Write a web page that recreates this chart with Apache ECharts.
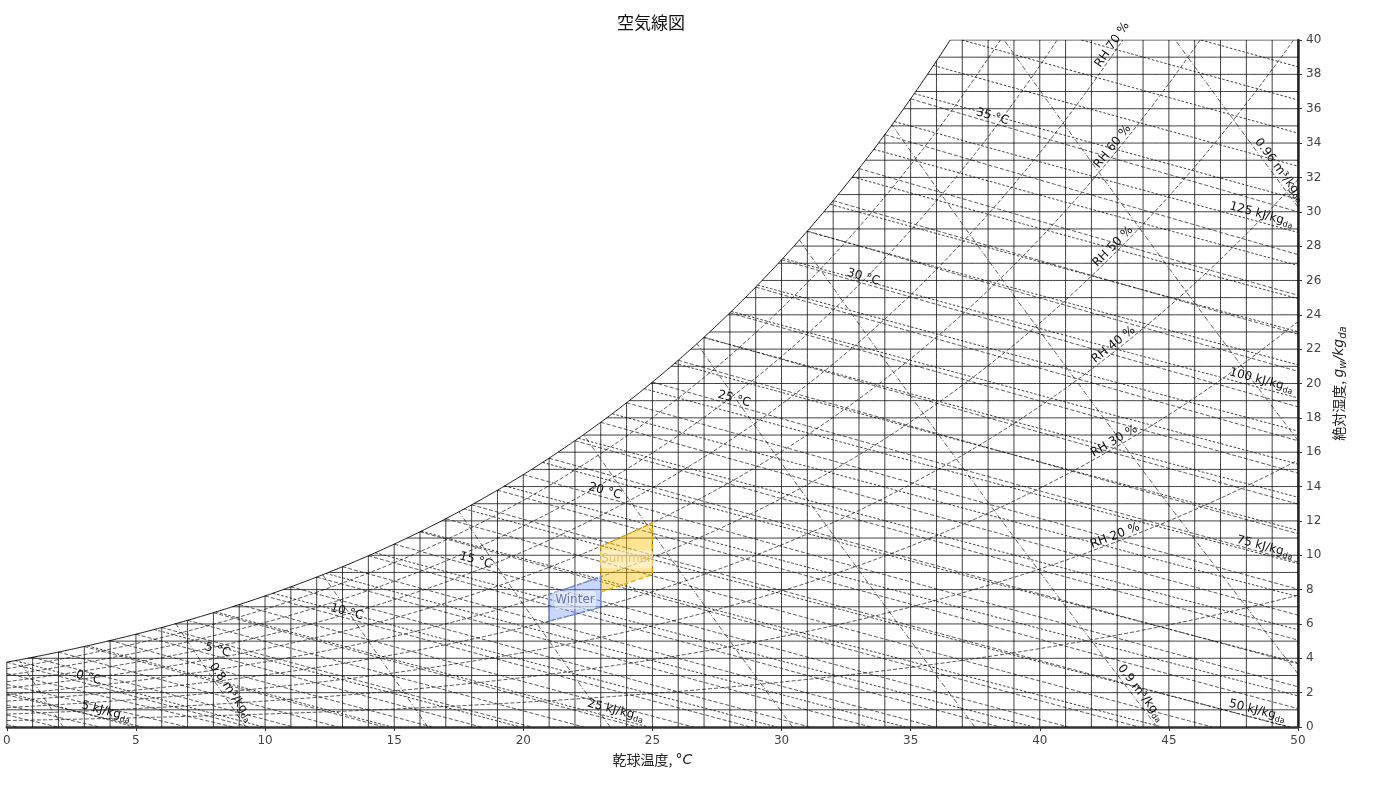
<!DOCTYPE html>
<html><head><meta charset="utf-8">
<script src="https://cdn.jsdelivr.net/npm/echarts@6/dist/echarts.min.js"></script>
<style>html,body{margin:0;padding:0;background:#fff}#c{width:1400px;height:787px}</style>
</head><body><div id="c"></div>
<script>
// ---------------- data ----------------
const chartTitle = '空気線図';
const xAxisName = '乾球温度, ';
const yAxisName = '絶対湿度, ';
const tempRange = [0, 50];
const humidityRange = [0, 40];
const xTickStep = 5;
const yTickStep = 2;
const pressureKPa = 101.325;
const dryTempGrid = [0,1,2,3,4,5,6,7,8,9,10,11,12,13,14,15,16,17,18,19,20,21,22,23,24,25,26,27,28,29,30,31,32,33,34,35,36,37,38,39,40,41,42,43,44,45,46,47,48,49,50];
const humidityGrid = [1,2,3,4,5,6,7,8,9,10,11,12,13,14,15,16,17,18,19,20,21,22,23,24,25,26,27,28,29,30,31,32,33,34,35,36,37,38,39,40];
const rhLevels = [10,20,30,40,50,60,70,80,90];
const rhLabelLevels = [20,30,40,50,60,70];
const rhLabelTemp = 43;
const enthalpyLevels = [5,10,15,20,25,30,35,40,45,50,55,60,65,70,75,80,85,90,95,100,105,110,115,120,125,130,135,140,145,150,155];
const enthalpyLabelLevels = [5,25,50,75,100,125];
const wetBulbLevels = [-10,-9,-8,-7,-6,-5,-4,-3,-2,-1,0,1,2,3,4,5,6,7,8,9,10,11,12,13,14,15,16,17,18,19,20,21,22,23,24,25,26,27,28,29,30,31,32,33,34,35];
const wetBulbLabelLevels = [0,5,10,15,20,25,30,35];
const wetBulbLabelShift = 3.1;
const volumeLevels = [0.78,0.80,0.82,0.84,0.86,0.88,0.90,0.92,0.94,0.96];
const volumeLabelLevels = [0.8,0.9,0.96];
const zoneNames = ['Summer','Winter'];
const zoneTemps = [[23,25],[21,23]];
const zoneRH = [[45,60],[40,50]];

// ---------------- psychrometrics ----------------
const P = pressureKPa;
function pws(T){
  const K = T + 273.15; let ln;
  if (T >= 0) ln = -5.8002206e3/K + 1.3914993 - 4.8640239e-2*K + 4.1764768e-5*K*K - 1.4452093e-8*K*K*K + 6.5459673*Math.log(K);
  else ln = -5.6745359e3/K + 6.3925247 - 9.677843e-3*K + 6.2215701e-7*K*K + 2.0747825e-9*K*K*K - 9.484024e-13*K*K*K*K + 4.1635019*Math.log(K);
  return Math.exp(ln)/1000;
}
function wFromPw(pw){ return 621.945*pw/(P - pw); }
function wSat(T){ return wFromPw(pws(T)); }
function wRH(T, rh){ return wFromPw(rh/100*pws(T)); }
function wEnth(T, h){ return 1000*(h - 1.006*T)/(2501 + 1.86*T); }
function wWet(T, tw){
  const ws = wSat(tw)/1000; let w;
  if (tw >= 0) w = ((2501 - 2.326*tw)*ws - 1.006*(T - tw))/(2501 + 1.86*T - 4.186*tw);
  else w = ((2830 - 0.24*tw)*ws - 1.006*(T - tw))/(2830 + 1.86*T - 2.1*tw);
  return 1000*w;
}
function tVol(W, v){ return v*P/(0.287042*(1 + 1.607858*W/1000)) - 273.15; }

const T0 = tempRange[0], T1 = tempRange[1], W0 = humidityRange[0], W1 = humidityRange[1];
function inside(p){
  const T = p[0], W = p[1];
  if (!(T >= T0 - 1e-9 && T <= T1 + 1e-9 && W >= W0 - 1e-9 && W <= W1 + 1e-9)) return false;
  return W <= wSat(T) + 1e-6;
}
function trace(f, ta, tb, n){
  const segs = []; let cur = null;
  let pt = ta, pp = f(ta), pin = inside(pp);
  if (pin) cur = [pp];
  for (let i = 1; i <= n; i++){
    const t = ta + (tb - ta)*i/n, p = f(t), isIn = inside(p);
    if (isIn !== pin){
      let a = pt, b = t;
      for (let k = 0; k < 40; k++){ const m = (a + b)/2; if (inside(f(m)) === pin) a = m; else b = m; }
      if (pin){ cur.push(f(a)); if (cur.length > 1) segs.push(cur); cur = null; }
      else cur = [f(b)];
    }
    if (isIn) cur.push(p);
    pt = t; pp = p; pin = isIn;
  }
  if (cur && cur.length > 1) segs.push(cur);
  return segs;
}
function flat(list){ return [].concat.apply([], list); }

const satSegs = trace(t => [t, wSat(t)], T0, T1, 600);
const dryGridSegs = flat(dryTempGrid.map(T => trace(t => [T, t], W0, W1, 200)));
const humGridSegs = flat(humidityGrid.map(W => trace(t => [t, W], T0, T1, 400)));
const rhSegs = flat(rhLevels.map(rh => trace(t => [t, wRH(t, rh)], T0, T1, 400)));
const hSegsBy = enthalpyLevels.map(h => trace(t => [t, wEnth(t, h)], -5, 60, 400));
const wbSegsBy = wetBulbLevels.map(tw => trace(t => [t, wWet(t, tw)], tw, 70, 400));
const vSegsBy = volumeLevels.map(v => trace(t => [tVol(t, v), t], W0, W1, 400));

function ls(name, segs, style, z){
  return {type:'lines', name, coordinateSystem:'cartesian2d', polyline:true, silent:true, z, animation:false,
    lineStyle: Object.assign({opacity: 1}, style), data: segs.map(s => ({coords: s}))};
}

// ---------------- labels ----------------
const labelItems = [];
rhLabelLevels.forEach(rh => {
  labelItems.push({T: rhLabelTemp, W: wRH(rhLabelTemp, rh), T2: rhLabelTemp + 0.3, W2: wRH(rhLabelTemp + 0.3, rh),
    text: 'RH ' + rh + ' %', align:'center', inset: 0});
});
wetBulbLabelLevels.forEach(tw => {
  const T = tw + wetBulbLabelShift;
  labelItems.push({T, W: wWet(T, tw), T2: T + 0.3, W2: wWet(T + 0.3, tw), text: tw + ' °C', align:'center', inset: 0});
});
function endLabel(segs, text, inset){
  let best = null;
  segs.forEach(s => { [[s[0], s[1]], [s[s.length-1], s[s.length-2]]].forEach(pr => { if (!best || pr[0][0] > best[0][0]) best = pr; }); });
  if (!best) return;
  labelItems.push({T: best[0][0], W: best[0][1], T2: best[1][0], W2: best[1][1], text, align:'right', inset});
}
enthalpyLabelLevels.forEach(h => endLabel(hSegsBy[enthalpyLevels.indexOf(h)], '{a|' + h + ' kJ/kg}{s|da}', 7));
volumeLabelLevels.forEach(v => endLabel(vSegsBy[volumeLevels.findIndex(x => Math.abs(x - v) < 1e-9)], '{a|' + v + ' m³/kg}{s|da}', 3));

const labelRich = {
  a: {fontSize: 12, fontFamily: 'DejaVu Sans', fill: '#111', lineHeight: 15},
  s: {fontSize: 8, fontFamily: 'DejaVu Sans', fill: '#111', lineHeight: 9, verticalAlign: 'bottom'}
};

const zoneStyles = [
  {fill:'rgba(255,191,0,0.42)', stroke:'rgba(235,170,0,0.9)', text:'rgba(225,175,60,0.7)'},
  {fill:'rgba(127,159,255,0.42)', stroke:'rgba(110,140,220,0.9)', text:'rgba(80,100,160,0.85)'}
];

const chart = echarts.init(document.getElementById('c'), null, {renderer:'canvas'});
const gridLine = {color:'#000', width:0.8, opacity:0.95};
chart.setOption({
  animation: false,
  backgroundColor: '#fff',
  title: {text: chartTitle, left: 651, top: 14, textAlign: 'center', padding: 0,
    textStyle: {fontSize: 17, fontWeight: 'normal', color: '#111', fontFamily: 'Noto Sans CJK JP'}},
  grid: {left: 3, right: 102, top: 40, bottom: 60, containLabel: false},
  xAxis: {type:'value', min: T0, max: T1, interval: xTickStep,
    name: '{a|' + xAxisName + '}{i|°C}', nameLocation: 'middle', nameGap: 26,
    nameTextStyle: {rich: {a: {fontSize: 14, fontFamily: 'Noto Sans CJK JP', color: '#222'}, i: {fontSize: 14, fontStyle: 'italic', fontFamily: 'DejaVu Sans', color: '#222'}}},
    axisLine: {show: true, onZero: false, lineStyle: {color: '#333', width: 2.5}},
    axisTick: {show: true, length: 4, lineStyle: {color: '#333', width: 1}},
    axisLabel: {color: '#444', fontSize: 12, fontFamily: 'DejaVu Sans', margin: 8},
    splitLine: {show: false}},
  yAxis: {type:'value', position:'right', min: W0, max: W1, interval: yTickStep,
    name: '{a|' + yAxisName + '}{i|g}{s|w}{i|/kg}{s|da}', nameLocation: 'middle', nameGap: 24, nameRotate: 90,
    nameTextStyle: {rich: {a: {fontSize: 14, fontFamily: 'Noto Sans CJK JP', color: '#222', lineHeight: 18},
      i: {fontSize: 14, fontStyle: 'italic', fontFamily: 'DejaVu Sans', color: '#222', lineHeight: 18},
      s: {fontSize: 10, fontStyle: 'italic', fontFamily: 'DejaVu Sans', color: '#222', lineHeight: 11, verticalAlign: 'bottom'}}},
    axisLine: {show: true, onZero: false, lineStyle: {color: '#333', width: 2.5}},
    axisTick: {show: true, length: 4, lineStyle: {color: '#333', width: 1}},
    axisLabel: {color: '#444', fontSize: 12, fontFamily: 'DejaVu Sans', margin: 8},
    splitLine: {show: false}},
  series: [
    ls('dry', dryGridSegs, gridLine, 1),
    ls('hum', humGridSegs, gridLine, 1),
    ls('rh', rhSegs, {color:'#111', width:0.7, type:[4,2]}, 2),
    ls('h', flat(hSegsBy), {color:'#111', width:0.8, type:[2.5,1.8]}, 2),
    ls('wb', flat(wbSegsBy), {color:'#111', width:0.7, type:[4,2]}, 2),
    ls('v', flat(vSegsBy), {color:'#111', width:0.7, type:[5,2,1,2]}, 2),
    ls('sat', satSegs, {color:'#000', width:0.9}, 3),
    {type:'custom', name:'zones', coordinateSystem:'cartesian2d', silent:true, z:5, animation:false,
      data: zoneNames.map((n, i) => [zoneTemps[i][0], zoneRH[i][0], i]),
      encode: {x: 0, y: 1},
      renderItem: function(params, api){
        const i = api.value(2), tr = zoneTemps[i], rr = zoneRH[i], st = zoneStyles[i];
        const pts = []; const n = 20;
        for (let k = 0; k <= n; k++){ const T = tr[0] + (tr[1]-tr[0])*k/n; pts.push(api.coord([T, wRH(T, rr[0])])); }
        for (let k = n; k >= 0; k--){ const T = tr[0] + (tr[1]-tr[0])*k/n; pts.push(api.coord([T, wRH(T, rr[1])])); }
        const tm = (tr[0]+tr[1])/2, c = api.coord([tm, (wRH(tm, rr[0]) + wRH(tm, rr[1]))/2]);
        return {type:'group', children:[
          {type:'polygon', shape:{points: pts}, style:{fill: st.fill, stroke: st.stroke, lineWidth: 1.5, lineDash:[5,3]}},
          {type:'text', x: c[0], y: c[1], style:{text: zoneNames[i], fill: st.text, fontSize: 12, fontFamily: 'DejaVu Sans',
            align:'center', verticalAlign:'middle', backgroundColor:'rgba(255,255,255,0.45)', borderRadius: 3, padding:[3,1]}}
        ]};
      }},
    {type:'custom', name:'labels', coordinateSystem:'cartesian2d', silent:true, z:10, animation:false,
      data: labelItems.map((d, i) => [d.T, d.W, i]),
      encode: {x: 0, y: 1},
      renderItem: function(params, api){
        const d = labelItems[api.value(2)];
        const p = api.coord([d.T, d.W]), q = api.coord([d.T2, d.W2]);
        let ang = Math.atan2(q[1]-p[1], q[0]-p[0]);
        if (ang > Math.PI/2) ang -= Math.PI;
        if (ang < -Math.PI/2) ang += Math.PI;
        const x = p[0] - d.inset*Math.cos(ang), y = p[1] - d.inset*Math.sin(ang);
        return {type:'text', x: x, y: y, rotation: -ang,
          style:{text: d.text, rich: labelRich, fill:'#111', fontSize: 12, fontFamily:'DejaVu Sans',
            align: d.align, verticalAlign: 'bottom'}};
      }}
  ]
});
</script></body></html>
